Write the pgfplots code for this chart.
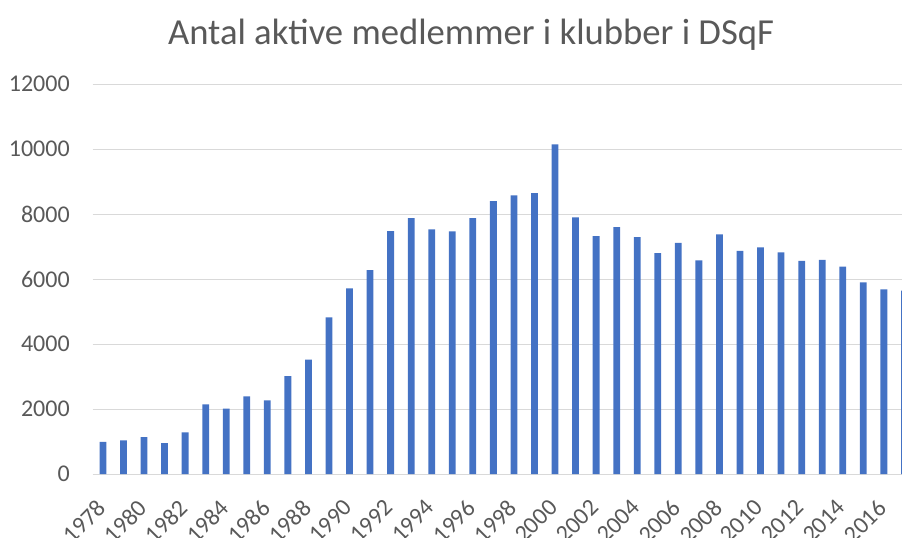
\documentclass[border=0pt]{standalone}
\usepackage{pgfplots}
\pgfplotsset{compat=1.18}
\usepackage{fontspec}
\setmainfont{Carlito}
\definecolor{barblue}{HTML}{4472C4}
\definecolor{gridgray}{HTML}{D9D9D9}
\definecolor{txtgray}{HTML}{595959}
\begin{document}
\begin{tikzpicture}
\clip (0,0) rectangle (676.5pt,402.75pt);
\useasboundingbox (0,0) rectangle (676.5pt,402.75pt);
\begin{axis}[
  at={(69.5pt,47.25pt)}, anchor=origin,
  scale only axis,
  width=616.5pt, height=292.5pt,
  xmin=1977.5, xmax=2017.5,
  ymin=0, ymax=12000,
  ytick={0,2000,...,12000},
  xtick={1978,1980,...,2016},
  scaled ticks=false,
  ymajorgrids,
  grid style={gridgray, line width=0.75pt},
  axis line style={draw=none},
  major tick length=0pt,
  /pgf/number format/1000 sep={},
  /pgf/number format/assume math mode=true,
  tick label style={text=txtgray},
  yticklabel style={font=\fontsize{18}{20}\selectfont, anchor=east, inner sep=0pt, xshift=-17pt},
  xticklabel style={font=\fontsize{18}{20}\selectfont, xshift=-5.5pt, yshift=-18pt, rotate=45, anchor=north east, inner sep=0pt},
  clip=true,
]
\addplot[ybar, bar width=5.1pt, fill=barblue, draw=none] coordinates {
(1978,990) (1979,1037) (1980,1138) (1981,954) (1982,1283)
(1983,2145) (1984,2009) (1985,2390) (1986,2267) (1987,3015)
(1988,3517) (1989,4822) (1990,5714) (1991,6277) (1992,7477)
(1993,7877) (1994,7528) (1995,7467) (1996,7877) (1997,8400)
(1998,8575) (1999,8646) (2000,10144) (2001,7898) (2002,7323)
(2003,7600) (2004,7292) (2005,6800) (2006,7108) (2007,6575)
(2008,7375) (2009,6862) (2010,6975) (2011,6821) (2012,6554)
(2013,6585) (2014,6378) (2015,5898) (2016,5683) (2017,5640)
};
\end{axis}
\node[anchor=base, text=txtgray, font=\fontsize{27.5}{32}\selectfont, inner sep=0pt] at (353.25pt,369.75pt) {Antal aktive medlemmer i klubber i DSqF};
\end{tikzpicture}
\end{document}
